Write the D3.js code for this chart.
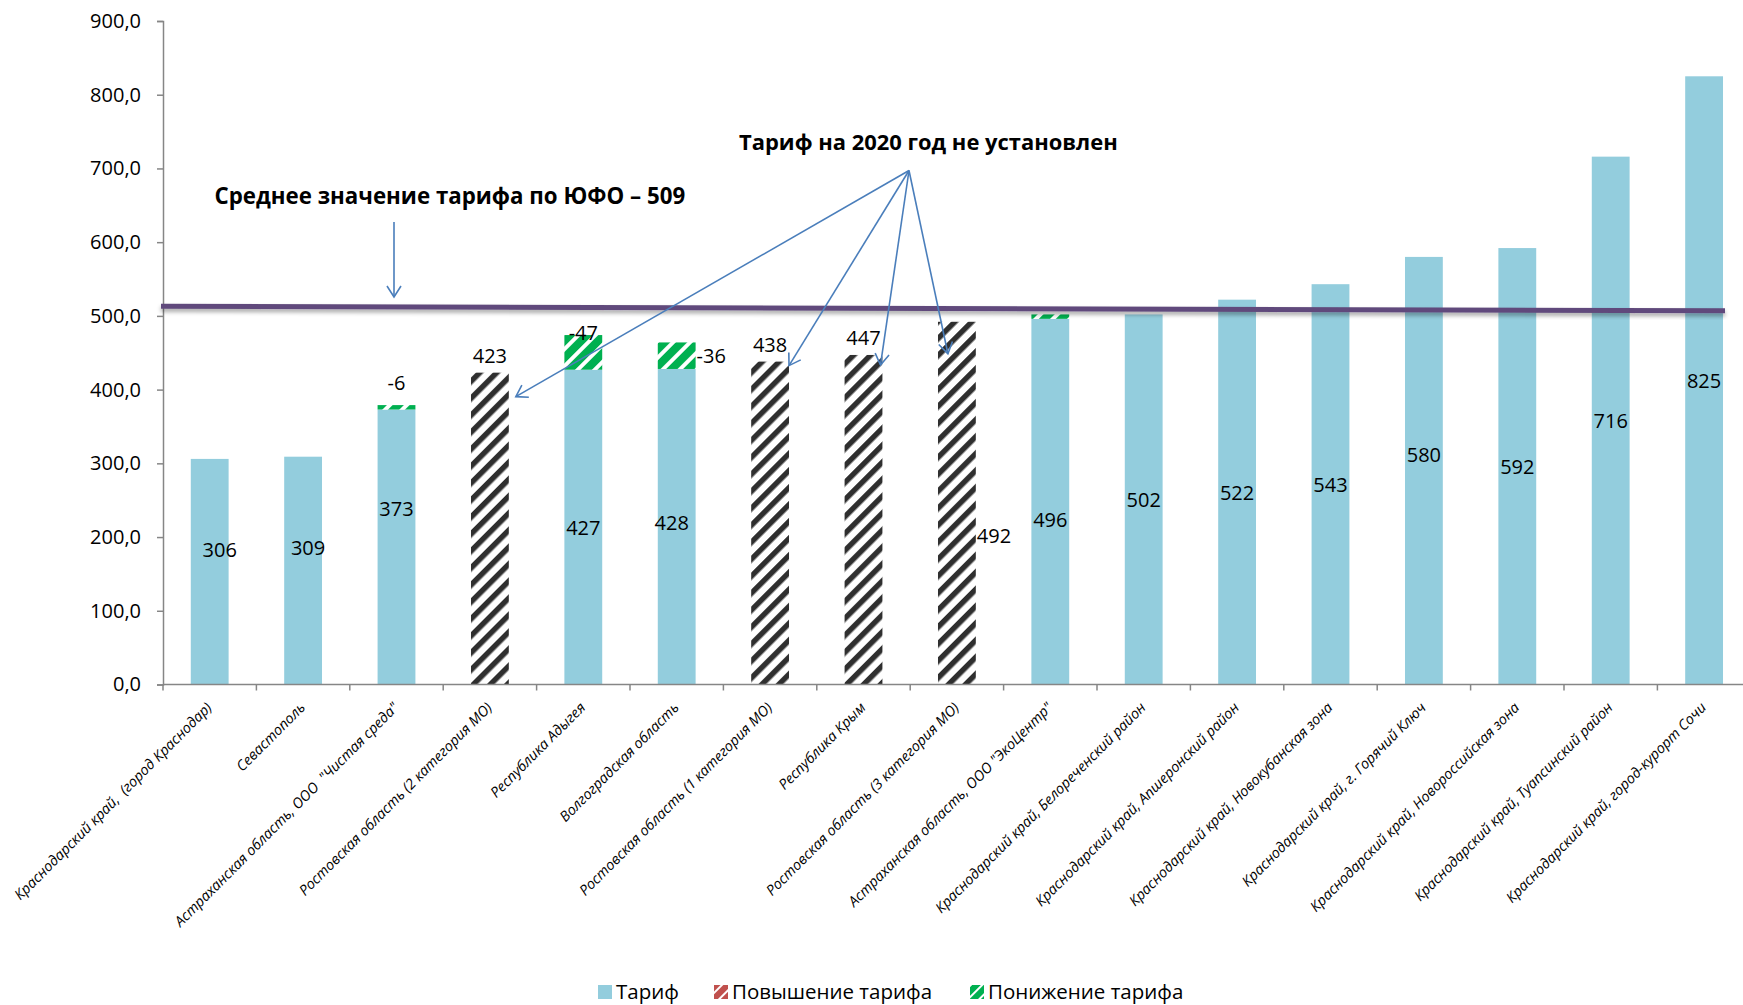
<!DOCTYPE html>
<html><head><meta charset="utf-8">
<script src="https://cdn.jsdelivr.net/npm/d3@7"></script>
<style>
html,body{margin:0;padding:0;background:#fff;}
svg{display:block;font-family:"Open Sans",sans-serif;}
</style></head>
<body>
<svg id="chart" width="1743" height="1005"></svg>
<script>
// ---------- DATA ----------
const categories = [
  "Краснодарский край,  (город Краснодар)",
  "Севастополь",
  "Астраханская область, ООО  \"Чистая среда\"",
  "Ростовская область (2 категория МО)",
  "Республика Адыгея",
  "Волгоградская область",
  "Ростовская область (1 категория МО)",
  "Республика Крым",
  "Ростовская область (3 категория МО)",
  "Астраханская область, ООО \"ЭкоЦентр\"",
  "Краснодарский край, Белореченский район",
  "Краснодарский край, Апшеронский район",
  "Краснодарский край, Новокубанская зона",
  "Краснодарский край, г. Горячий Ключ",
  "Краснодарский край, Новороссийская зона",
  "Краснодарский край, Туапсинский район",
  "Краснодарский край, город-курорт Сочи"
];
const tariff   = [306, 309, 373, 423, 427, 428, 438, 447, 492, 496, 502, 522, 543, 580, 592, 716, 825];
const increase = [0, 0, 0, 0, 0, 0, 0, 0, 0, 0, 0, 0, 0, 0, 0, 0, 0];
const decrease = [0, 0, -6, 0, -47, -36, 0, 0, 0, -6, 0, 0, 0, 0, 0, 0, 0];
const tariffNotSet = [false, false, false, true, false, false, true, true, true, false, false, false, false, false, false, false, false];
const yTicks = [0, 100, 200, 300, 400, 500, 600, 700, 800, 900];
const averageValue = 509;
const averageLineEnds = [513, 507];
const legendLabels = ["Тариф", "Повышение тарифа", "Понижение тарифа"];
const averageText = "Среднее значение тарифа по ЮФО – " + averageValue;
const notSetText = "Тариф на 2020 год не установлен";

// ---------- LAYOUT ----------
const L = {left: 163, top: 21, bottom: 684.5, step: 93.4};
const tariffLabelNudge = {0:{dx:10,dy:-22}, 1:{dx:5,dy:-23}, 2:{dx:0,dy:-39}, 5:{dx:-5,dy:-4}, 9:{dx:0,dy:18}, 13:{dx:0,dy:-16}};
const notSetLabelPos = {3:"above", 6:"above", 7:"above", 8:"right"};
const decreaseLabelPos = {2:"above", 4:"top", 5:"right"};
const colors = {tariff:"#93CDDD", inc:"#C0504D", dec:"#00B050", hatch:"#2f2f2f", avg:"#604A7B", arrow:"#4A7EBB", axis:"#868686"};

const svg = d3.select("#chart");
const defs = svg.append("defs");

function stripePattern(id, color, stripeW, period) {
  const p = defs.append("pattern").attr("id", id).attr("patternUnits", "userSpaceOnUse")
    .attr("width", period).attr("height", period).attr("patternTransform", "rotate(45)");
  p.append("rect").attr("width", period).attr("height", period).attr("fill", "#fff");
  p.append("rect").attr("x", 0).attr("width", stripeW).attr("height", period).attr("fill", color);
}
stripePattern("hatchBlack", colors.hatch, 5.5, 12);
stripePattern("hatchGreen", colors.dec, 8, 12);
stripePattern("hatchRed", colors.inc, 8, 12);
stripePattern("hatchGreenS", colors.dec, 6, 8);
stripePattern("hatchRedS", colors.inc, 6, 8);

const shadow = defs.append("filter").attr("id", "shadow").attr("x", "-5%").attr("y", "-200%").attr("width", "110%").attr("height", "500%");
shadow.append("feDropShadow").attr("dx", 0).attr("dy", 3).attr("stdDeviation", 2).attr("flood-color", "#000").attr("flood-opacity", 0.35);

const m = defs.append("marker").attr("id", "arrowHead").attr("viewBox", "-12 -8 14 16")
  .attr("refX", 0).attr("refY", 0).attr("markerWidth", 14).attr("markerHeight", 16)
  .attr("markerUnits", "userSpaceOnUse").attr("orient", "auto");
m.append("path").attr("d", "M-11,-7 L0,0 L-11,7").attr("fill", "none").attr("stroke", colors.arrow).attr("stroke-width", 1.6);

const x = d3.scaleBand().domain(categories)
  .range([L.left, L.left + categories.length * L.step])
  .paddingInner(0.595).paddingOuter(0.2975);
const y = d3.scaleLinear().domain([0, 900]).range([L.bottom, L.top]);
const fmt = v => d3.format(".1f")(v).replace(".", ",");
const cx = i => x(categories[i]) + x.bandwidth() / 2;

// Y axis
const yAxis = svg.append("g").attr("transform", `translate(${L.left},0)`)
  .call(d3.axisLeft(y).tickValues(yTicks).tickFormat(fmt).tickSizeOuter(0).tickSize(6).tickPadding(16));
yAxis.select(".domain").attr("stroke", colors.axis).attr("stroke-width", 1.5);
yAxis.selectAll(".tick line").attr("stroke", colors.axis).attr("stroke-width", 1.5);
yAxis.selectAll(".tick text").attr("font-size", 20).attr("fill", "#000").attr("font-family", "Open Sans");

// bars
const idx = d3.range(categories.length);
svg.append("g").selectAll("rect").data(idx).join("rect")
  .attr("x", i => x(categories[i])).attr("width", x.bandwidth())
  .attr("y", i => y(tariff[i])).attr("height", i => y(0) - y(tariff[i]))
  .attr("fill", i => tariffNotSet[i] ? "url(#hatchBlack)" : colors.tariff);
// decrease segments (stacked on top)
svg.append("g").selectAll("rect").data(idx.filter(i => decrease[i] !== 0)).join("rect")
  .attr("x", i => x(categories[i])).attr("width", x.bandwidth())
  .attr("y", i => y(tariff[i] - decrease[i])).attr("height", i => y(tariff[i]) - y(tariff[i] - decrease[i]))
  .attr("fill", "url(#hatchGreen)");
// increase segments
svg.append("g").selectAll("rect").data(idx.filter(i => increase[i] !== 0)).join("rect")
  .attr("x", i => x(categories[i])).attr("width", x.bandwidth())
  .attr("y", i => y(tariff[i] + increase[i])).attr("height", i => y(tariff[i]) - y(tariff[i] + increase[i]))
  .attr("fill", "url(#hatchRed)");

// X axis
const xAxisG = svg.append("g");
xAxisG.append("line").attr("x1", L.left).attr("x2", 1743).attr("y1", y(0)).attr("y2", y(0))
  .attr("stroke", colors.axis).attr("stroke-width", 1.5);
xAxisG.selectAll("line.t").data(d3.range(categories.length + 1)).join("line").attr("class", "t")
  .attr("x1", i => L.left + i * x.step()).attr("x2", i => L.left + i * x.step())
  .attr("y1", y(0)).attr("y2", y(0) + 6).attr("stroke", colors.axis).attr("stroke-width", 1.5);
xAxisG.selectAll("text").data(idx).join("text")
  .attr("transform", i => `translate(${cx(i) + 3},${y(0) + 24}) rotate(-45)`)
  .attr("text-anchor", "end").attr("font-size", 14.4).attr("font-style", "italic")
  .attr("fill", "#000").attr("xml:space", "preserve")
  .text(i => categories[i]);

// average line
svg.append("line").attr("x1", L.left - 2).attr("x2", 1725)
  .attr("y1", y(averageLineEnds[0])).attr("y2", y(averageLineEnds[1]))
  .attr("stroke", colors.avg).attr("stroke-width", 5).attr("filter", "url(#shadow)");

// value labels
const labels = svg.append("g").attr("font-size", 20).attr("fill", "#000");
idx.filter(i => !tariffNotSet[i]).forEach(i => {
  const n = tariffLabelNudge[i] || {dx: 0, dy: 0};
  labels.append("text").attr("x", cx(i) + n.dx).attr("y", y(tariff[i] / 2) + n.dy)
    .attr("text-anchor", "middle").attr("dominant-baseline", "central").text(tariff[i]);
});
idx.filter(i => tariffNotSet[i]).forEach(i => {
  const pos = notSetLabelPos[i];
  if (pos === "above") {
    labels.append("text").attr("x", cx(i)).attr("y", y(tariff[i]) - 17)
      .attr("text-anchor", "middle").attr("dominant-baseline", "central").text(tariff[i]);
  } else {
    labels.append("text").attr("x", cx(i) + x.bandwidth() / 2 + 1).attr("y", y(tariff[i] * 0.41))
      .attr("text-anchor", "start").attr("dominant-baseline", "central").text(tariff[i]);
  }
});
idx.filter(i => decreaseLabelPos[i]).forEach(i => {
  const pos = decreaseLabelPos[i];
  const top = y(tariff[i] - decrease[i]);
  const t = labels.append("text").attr("dominant-baseline", "central").text(decrease[i]);
  if (pos === "above") t.attr("x", cx(i)).attr("y", top - 23).attr("text-anchor", "middle");
  else if (pos === "top") t.attr("x", cx(i)).attr("y", top - 3).attr("text-anchor", "middle");
  else t.attr("x", cx(i) + x.bandwidth() / 2 + 1).attr("y", (top + y(tariff[i])) / 2).attr("text-anchor", "start");
});

// annotations
function fitTo(sel, target) {
  const w = sel.node().getComputedTextLength();
  const fs = parseFloat(sel.attr("font-size"));
  sel.attr("font-size", fs * target / w);
}
const t1 = svg.append("text").attr("x", 214.5).attr("y", 195).attr("dominant-baseline", "central")
  .attr("font-weight", "bold").attr("font-size", 22).attr("fill", "#000").text(averageText);
fitTo(t1, 471);
const t2 = svg.append("text").attr("x", 739).attr("y", 141).attr("dominant-baseline", "central")
  .attr("font-weight", "bold").attr("font-size", 22).attr("fill", "#000").text(notSetText);
fitTo(t2, 379);

const arrows = svg.append("g").attr("stroke", colors.arrow).attr("stroke-width", 1.6).attr("fill", "none");
arrows.append("line").attr("x1", 394).attr("y1", 222).attr("x2", 394).attr("y2", 297).attr("marker-end", "url(#arrowHead)");
const origin = [909, 170.5];
const targets = [
  [cx(3) + x.bandwidth() / 2 + 7, y(tariff[3]) + 24],
  [cx(6) + x.bandwidth() / 2, y(tariff[6]) + 4],
  [cx(7) + 17, y(tariff[7]) + 10],
  [cx(8) - 9, y(tariff[8]) + 32]
];
targets.forEach(t => arrows.append("line").attr("x1", origin[0]).attr("y1", origin[1])
  .attr("x2", t[0]).attr("y2", t[1]).attr("marker-end", "url(#arrowHead)"));

// legend
const lg = svg.append("g").attr("font-size", 20.5).attr("fill", "#000");
const legendX = [598, 714, 970];
const legendFill = [colors.tariff, "url(#hatchRedS)", "url(#hatchGreenS)"];
legendLabels.forEach((lab, k) => {
  lg.append("rect").attr("x", legendX[k]).attr("y", 985).attr("width", 14).attr("height", 14).attr("fill", legendFill[k]);
  lg.append("text").attr("x", legendX[k] + 18).attr("y", 999).text(lab);
});
</script>
</body></html>
